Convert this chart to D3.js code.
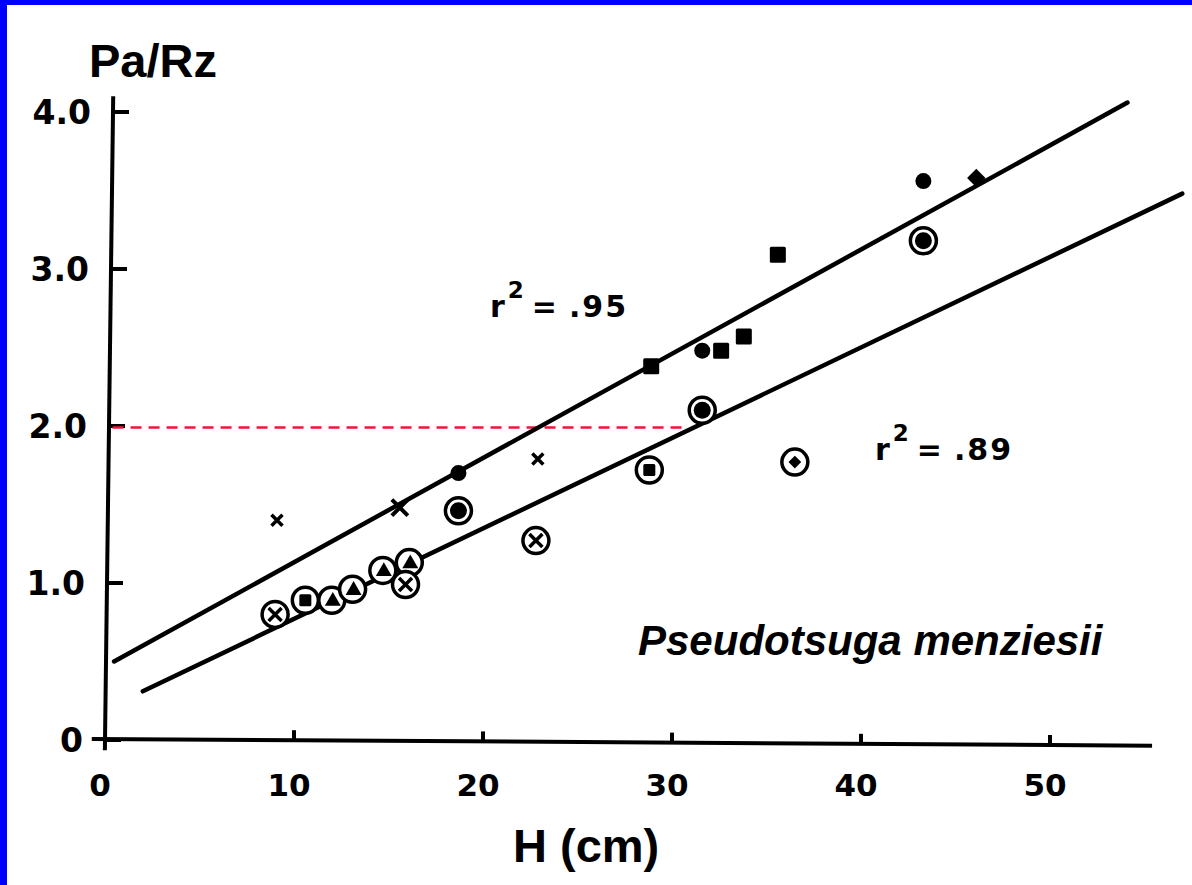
<!DOCTYPE html>
<html>
<head>
<meta charset="utf-8">
<script src="https://cdn.jsdelivr.net/npm/d3@7"></script>
<style>
  body { margin: 0; background: #fff; }
  svg { display: block; }
</style>
</head>
<body>
<script>
var width = 1192,
    height = 885;

// solid symbols, upper fit (r2 = .95)
var upperH = [9.1, 15.6, 18.7, 22.9, 28.9, 31.6, 32.6, 33.8, 35.6, 43.3, 46.1];
var upperP = [1.40, 1.48, 1.70, 1.79, 2.38, 2.48, 2.48, 2.57, 3.09, 3.56, 3.58];
var upperSym = ['x', 'X', 'dot', 'x', 'square', 'dot', 'square', 'square', 'square', 'dot', 'diamond'];

// circled symbols, lower fit (r2 = .89)
var lowerH = [9.0, 10.6, 12.0, 13.1, 14.7, 16.1, 15.9, 18.7, 22.8, 28.8, 31.6, 36.5, 43.3];
var lowerP = [0.80, 0.89, 0.89, 0.96, 1.08, 1.13, 0.99, 1.46, 1.27, 1.72, 2.10, 1.77, 3.18];
var lowerSym = ['x', 'square', 'triangle', 'triangle', 'triangle', 'triangle', 'x', 'dot', 'x', 'square', 'dot', 'diamond', 'dot'];

// regression lines and the Pa/Rz = 2 reference
var upperFit = [[0.48, 0.50], [54.1, 4.06]];
var lowerFit = [[2.0, 0.31], [57.0, 3.48]];
var refLine = [[0.4, 1.99], [30.6, 1.99]];

var xTicks = [0, 10, 20, 30, 40, 50];
var xTickLabels = ['0', '10', '20', '30', '40', '50'];
var yTicks = [0, 1, 2, 3, 4];
var yTickLabels = ['0', '1.0', '2.0', '3.0', '4.0'];

var svg = d3.select('body')
  .append('svg')
  .attr('width', width)
  .attr('height', height);

// blue slide frame
svg.append('rect').attr('width', width).attr('height', height).attr('fill', '#0000ff');
svg.append('rect').attr('x', 7).attr('y', 5).attr('width', width - 7).attr('height', height - 5).attr('fill', '#fff');

var x = d3.scaleLinear().domain([0, 50]).range([105, 1050]);
var y = d3.scaleLinear().domain([0, 4]).range([740, 112]);

// the hand-drawn axes lean a little
var yAxisX = d3.scaleLinear().domain([0, 4]).range([105, 113]);
var xAxisY = d3.scaleLinear().domain([0, 50]).range([739, 745]);

var line = d3.line()
  .x(function(d) { return x(d[0]); })
  .y(function(d) { return y(d[1]); });

// axes
svg.append('path')
  .attr('d', 'M' + yAxisX(4.1) + ',' + y(4.1) + 'L' + yAxisX(-0.06) + ',' + y(-0.065))
  .attr('stroke', '#000').attr('stroke-width', 4).attr('fill', 'none');

svg.append('path')
  .attr('d', 'M' + x(-0.7) + ',' + xAxisY(-0.7) + 'L' + x(55.4) + ',' + xAxisY(55.4))
  .attr('stroke', '#000').attr('stroke-width', 4).attr('fill', 'none');

svg.selectAll('.ytick')
  .data(yTicks)
  .enter().append('line')
  .attr('class', 'ytick')
  .attr('x1', function(d) { return yAxisX(d); })
  .attr('x2', function(d) { return yAxisX(d) + 16; })
  .attr('y1', function(d) { return y(d); })
  .attr('y2', function(d) { return y(d); })
  .attr('stroke', '#000').attr('stroke-width', 4);

svg.selectAll('.ylabel')
  .data(yTicks)
  .enter().append('text')
  .attr('class', 'ylabel')
  .attr('x', function(d) { return yAxisX(d) - 22; })
  .attr('y', function(d) { return y(d); })
  .attr('dy', '0.36em')
  .attr('text-anchor', 'end')
  .style('font-family', 'DejaVu Sans')
  .style('font-weight', 'bold')
  .style('font-size', '33px')
  .text(function(d, i) { return yTickLabels[i]; });

svg.selectAll('.xtick')
  .data(xTicks.slice(1))
  .enter().append('line')
  .attr('class', 'xtick')
  .attr('x1', function(d) { return x(d); })
  .attr('x2', function(d) { return x(d); })
  .attr('y1', function(d) { return xAxisY(d); })
  .attr('y2', function(d) { return xAxisY(d) - 10; })
  .attr('stroke', '#000').attr('stroke-width', 4);

svg.selectAll('.xlabel')
  .data(xTicks)
  .enter().append('text')
  .attr('class', 'xlabel')
  .attr('x', function(d) { return x(d) - 5; })
  .attr('y', 796)
  .attr('text-anchor', 'middle')
  .style('font-family', 'DejaVu Sans')
  .style('font-weight', 'bold')
  .style('font-size', '31px')
  .text(function(d, i) { return xTickLabels[i]; });

// reference and fit lines
svg.append('path')
  .attr('d', line(refLine))
  .attr('stroke', '#f0143c').attr('stroke-width', 2.5).attr('stroke-dasharray', '11,7')
  .attr('fill', 'none');

[upperFit, lowerFit].forEach(function(f) {
  svg.append('path')
    .attr('d', line(f))
    .attr('stroke', '#000').attr('stroke-width', 4.5).attr('stroke-linecap', 'round')
    .attr('fill', 'none');
});

// markers
function cross(h) {
  return 'M' + (-h) + ',' + (-h) + 'L' + h + ',' + h + 'M' + (-h) + ',' + h + 'L' + h + ',' + (-h);
}

function drawMark(g, sym, circled) {
  if (circled) {
    g.append('circle').attr('r', 13).attr('fill', '#fff')
      .attr('stroke', '#000').attr('stroke-width', 3.5);
  }
  if (sym === 'dot') {
    g.append('circle').attr('r', circled ? 8.5 : 8).attr('fill', '#000');
  } else if (sym === 'square') {
    var w = circled ? 12 : 16;
    g.append('rect').attr('x', -w / 2).attr('y', -w / 2).attr('width', w).attr('height', w)
      .attr('rx', 1.5).attr('fill', '#000');
  } else if (sym === 'diamond') {
    var dw = circled ? 9 : 13;
    g.append('rect').attr('x', -dw / 2).attr('y', -dw / 2).attr('width', dw).attr('height', dw)
      .attr('transform', 'rotate(45)').attr('fill', '#000');
  } else if (sym === 'triangle') {
    g.append('path').attr('d', d3.symbol().type(d3.symbolTriangle).size(110)())
      .attr('transform', 'translate(1,1)')
      .attr('fill', '#000');
  } else if (sym === 'x' || sym === 'X') {
    g.append('path').attr('d', cross(sym === 'X' ? 8 : (circled ? 6.5 : 5.5)))
      .attr('stroke', '#000').attr('stroke-width', sym === 'X' ? 4 : 3.5).attr('fill', 'none');
  }
}

upperH.forEach(function(h, i) {
  var g = svg.append('g').attr('transform', 'translate(' + x(h) + ',' + y(upperP[i]) + ')');
  drawMark(g, upperSym[i], false);
});

lowerH.forEach(function(h, i) {
  var g = svg.append('g').attr('transform', 'translate(' + x(h) + ',' + y(lowerP[i]) + ')');
  drawMark(g, lowerSym[i], true);
});

// titles and labels
svg.append('text')
  .attr('x', 89).attr('y', 77)
  .style('font-family', 'Liberation Sans, Arial')
  .style('font-weight', 'bold')
  .style('font-size', '47px')
  .text('Pa/Rz');

svg.append('text')
  .attr('x', 513).attr('y', 862)
  .style('font-family', 'Liberation Sans, Arial')
  .style('font-weight', 'bold')
  .style('font-size', '47px')
  .text('H (cm)');

svg.append('text')
  .attr('x', 638).attr('y', 655)
  .style('font-family', 'Liberation Sans, Arial')
  .style('font-weight', 'bold')
  .style('font-style', 'italic')
  .style('font-size', '42px')
  .text('Pseudotsuga menziesii');

function r2Label(px, py, val) {
  var t = svg.append('text')
    .attr('x', px).attr('y', py)
    .style('font-family', 'DejaVu Sans')
    .style('font-weight', 'bold')
    .style('font-size', '30px');
  t.append('tspan').text('r');
  t.append('tspan').attr('dx', 3).attr('dy', -19).style('font-size', '23px').text('2');
  t.append('tspan').attr('dy', 19).attr('dx', 8).text('=');
  t.append('tspan').attr('dx', 12).style('letter-spacing', '2px').text(val);
}

r2Label(490, 317, '.95');
r2Label(875, 460, '.89');
</script>
</body>
</html>
